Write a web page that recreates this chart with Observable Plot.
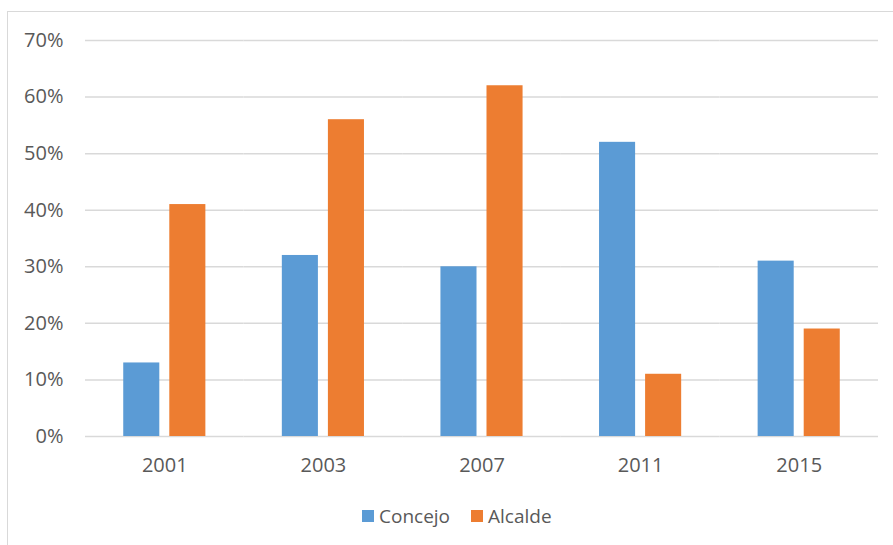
<!DOCTYPE html>
<html>
<head>
<meta charset="utf-8">
<script src="https://cdn.jsdelivr.net/npm/d3@7"></script>
<script src="https://cdn.jsdelivr.net/npm/@observablehq/plot@0.6"></script>
<style>
  html, body { margin: 0; padding: 0; background: #fff; }
  #wrap { position: relative; width: 893px; height: 545px; overflow: hidden; font-family: "Open Sans", sans-serif; }
  #frame { position: absolute; left: 7px; top: 11px; width: 950px; height: 600px;
           border-left: 1.6px solid #d9d9d9; border-top: 1.6px solid #d9d9d9; }
  #chart { position: absolute; left: 0; top: 0; }
  #legend { position: absolute; left: 362px; top: 503px; display: flex; align-items: center;
            font-size: 19px; color: #595959; white-space: nowrap; }
  #legend .item { display: flex; align-items: center; margin-right: 21px; }
  #legend .sw { width: 12px; height: 12px; margin-right: 5px; }
</style>
</head>
<body>
<div id="wrap">
  <div id="frame"></div>
  <div id="chart"></div>
  <div id="legend"></div>
</div>
<script>
// Election years and the share (%) for each body
const years = ["2001", "2003", "2007", "2011", "2015"];
const concejo = [13, 32, 30, 52, 31];
const alcalde = [41, 56, 62, 11, 19];
const seriesNames = ["Concejo", "Alcalde"];
const seriesColors = ["#5B9BD5", "#ED7D31"];
const yTicks = [0, 10, 20, 30, 40, 50, 60, 70];

const rows = years.flatMap((year, i) => [
  {year, series: "Concejo", value: concejo[i]},
  {year, series: "Alcalde", value: alcalde[i]}
]);

const textColor = "#595959";
const gridColor = "#d9d9d9";

const plot = Plot.plot({
  width: 893,
  height: 490,
  marginLeft: 85,
  marginRight: 15,
  marginTop: 40,
  marginBottom: 54,
  style: {fontFamily: "'Open Sans', sans-serif", fontSize: "20px", color: textColor, background: "transparent"},
  fx: {domain: years, padding: 0, round: false, label: null},
  x: {domain: seriesNames, paddingInner: 0.217, paddingOuter: 0.83, round: false, axis: null},
  y: {domain: [0, 70], label: null},
  color: {domain: seriesNames, range: seriesColors},
  marks: [
    Plot.ruleY(yTicks, {stroke: gridColor, strokeWidth: 1.5, strokeOpacity: 1}),
    Plot.barY(rows, {fx: "year", x: "series", y: "value", fill: "series"}),
    Plot.axisY(yTicks, {tickSize: 0, tickPadding: 22, tickFormat: d => d + "%", fill: textColor, label: null}),
    Plot.axisFx({anchor: "bottom", tickSize: 0, tickPadding: 21, fill: textColor, label: null})
  ]
});
document.getElementById("chart").appendChild(plot);

// Legend
const legend = document.getElementById("legend");
seriesNames.forEach((name, i) => {
  const item = document.createElement("div");
  item.className = "item";
  const sw = document.createElement("span");
  sw.className = "sw";
  sw.style.background = seriesColors[i];
  const label = document.createElement("span");
  label.textContent = name;
  item.append(sw, label);
  legend.appendChild(item);
});
</script>
</body>
</html>
